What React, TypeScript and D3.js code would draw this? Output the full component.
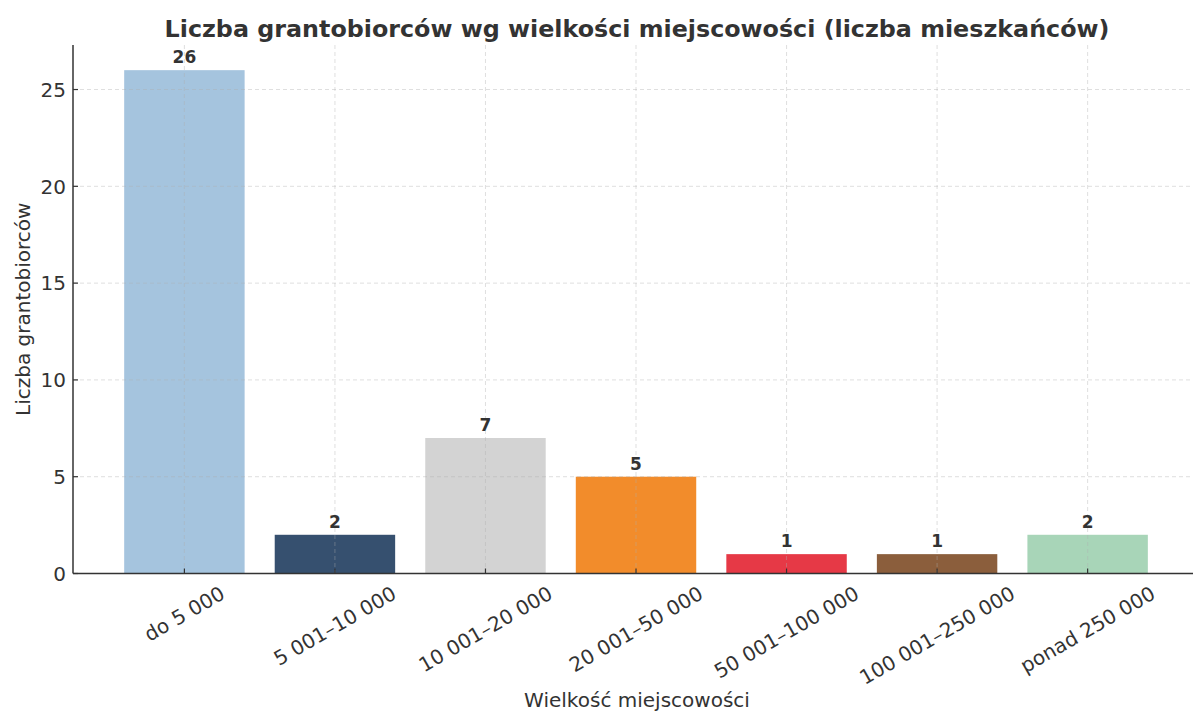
import React, { useEffect, useRef } from "react";
import * as d3 from "d3";

const categories = [
  "do 5 000",
  "5 001–10 000",
  "10 001–20 000",
  "20 001–50 000",
  "50 001–100 000",
  "100 001–250 000",
  "ponad 250 000",
];
const counts = [26, 2, 7, 5, 1, 1, 2];
const barColors = ["#a5c4de", "#36506f", "#d3d3d3", "#f28c2b", "#e63946", "#8b5e3c", "#a8d5b8"];
const yTicks = [0, 5, 10, 15, 20, 25];

const W = 1193;
const H = 713;
const FONT = "DejaVu Sans, sans-serif";
const INK = "#333333";

const App = () => {
  const svgRef = useRef<SVGSVGElement | null>(null);

  useEffect(() => {
    document.body.style.margin = "0";
    const svg = d3.select(svgRef.current).attr("width", W).attr("height", H);
    svg.selectAll("*").remove();

    const left = 73;
    const right = W;
    const top = 45;
    const bottom = 573.5;

    const x = d3.scaleLinear().domain([-0.74, 6.7]).range([left, right]);
    const y = d3.scaleLinear().domain([0, 27.3]).range([bottom, top]);
    const barW = x(0.8) - x(0);

    // bars
    svg
      .append("g")
      .selectAll("rect")
      .data(counts)
      .enter()
      .append("rect")
      .attr("x", (d, i) => x(i) - barW / 2)
      .attr("y", (d) => y(d))
      .attr("width", barW)
      .attr("height", (d) => y(0) - y(d))
      .attr("fill", (d, i) => barColors[i]);

    // grid (drawn over bars)
    const grid = svg.append("g").attr("stroke", "#b0b0b0").attr("stroke-opacity", 0.5)
      .attr("stroke-width", 0.8).attr("stroke-dasharray", "4,3");
    grid.selectAll(".hg").data(yTicks).enter().append("line")
      .attr("x1", left).attr("x2", right)
      .attr("y1", (d) => y(d)).attr("y2", (d) => y(d));
    grid.selectAll(".vg").data(categories).enter().append("line")
      .attr("x1", (d, i) => x(i)).attr("x2", (d, i) => x(i))
      .attr("y1", top).attr("y2", bottom);

    // spines
    svg.append("line").attr("x1", left).attr("x2", left).attr("y1", top).attr("y2", bottom)
      .attr("stroke", INK).attr("stroke-width", 1.5);
    svg.append("line").attr("x1", left).attr("x2", right).attr("y1", bottom).attr("y2", bottom)
      .attr("stroke", INK).attr("stroke-width", 1.5);

    // y ticks
    const yg = svg.append("g");
    yTicks.forEach((t) => {
      yg.append("line").attr("x1", left).attr("x2", left + 5).attr("y1", y(t)).attr("y2", y(t))
        .attr("stroke", INK).attr("stroke-width", 1.2);
      yg.append("text").attr("x", left - 7).attr("y", y(t)).attr("dy", "0.36em")
        .attr("text-anchor", "end").attr("font-family", FONT).attr("font-size", 20)
        .attr("fill", INK).text(t);
    });

    // x ticks + rotated labels
    const xg = svg.append("g");
    categories.forEach((c, i) => {
      xg.append("line").attr("x1", x(i)).attr("x2", x(i)).attr("y1", bottom).attr("y2", bottom - 5)
        .attr("stroke", INK).attr("stroke-width", 1.2);
      const t = xg.append("text").attr("text-anchor", "middle").attr("dominant-baseline", "central")
        .attr("font-family", FONT).attr("font-size", 20).attr("fill", INK).text(c);
      const w = (t.node() as SVGTextElement).getComputedTextLength();
      const h = 20 * 1.05;
      const a = Math.PI / 6;
      const bh = w * Math.sin(a) + h * Math.cos(a);
      const cy = bottom + 9 + bh / 2;
      t.attr("transform", `translate(${x(i)},${cy}) rotate(-30)`);
    });

    // value labels
    svg.append("g").selectAll("text").data(counts).enter().append("text")
      .attr("x", (d, i) => x(i)).attr("y", (d) => y(d) - 7)
      .attr("text-anchor", "middle").attr("font-family", FONT).attr("font-size", 17)
      .attr("font-weight", "bold").attr("fill", INK).text((d) => d);

    // title & axis labels
    svg.append("text").attr("x", (left + right) / 2 + 4).attr("y", 37).attr("text-anchor", "middle")
      .attr("font-family", FONT).attr("font-size", 23.8).attr("font-weight", "bold").attr("fill", INK)
      .text("Liczba grantobiorców wg wielkości miejscowości (liczba mieszkańców)");
    svg.append("text").attr("x", (left + right) / 2 + 4).attr("y", 707).attr("text-anchor", "middle")
      .attr("font-family", FONT).attr("font-size", 20).attr("fill", INK).text("Wielkość miejscowości");
    svg.append("text").attr("transform", `translate(30,${(top + bottom) / 2}) rotate(-90)`)
      .attr("text-anchor", "middle").attr("font-family", FONT).attr("font-size", 20).attr("fill", INK)
      .text("Liczba grantobiorców");
  }, []);

  return (
    <div>
      <svg ref={svgRef} style={{ display: "block" }}></svg>
    </div>
  );
};

export default App;
